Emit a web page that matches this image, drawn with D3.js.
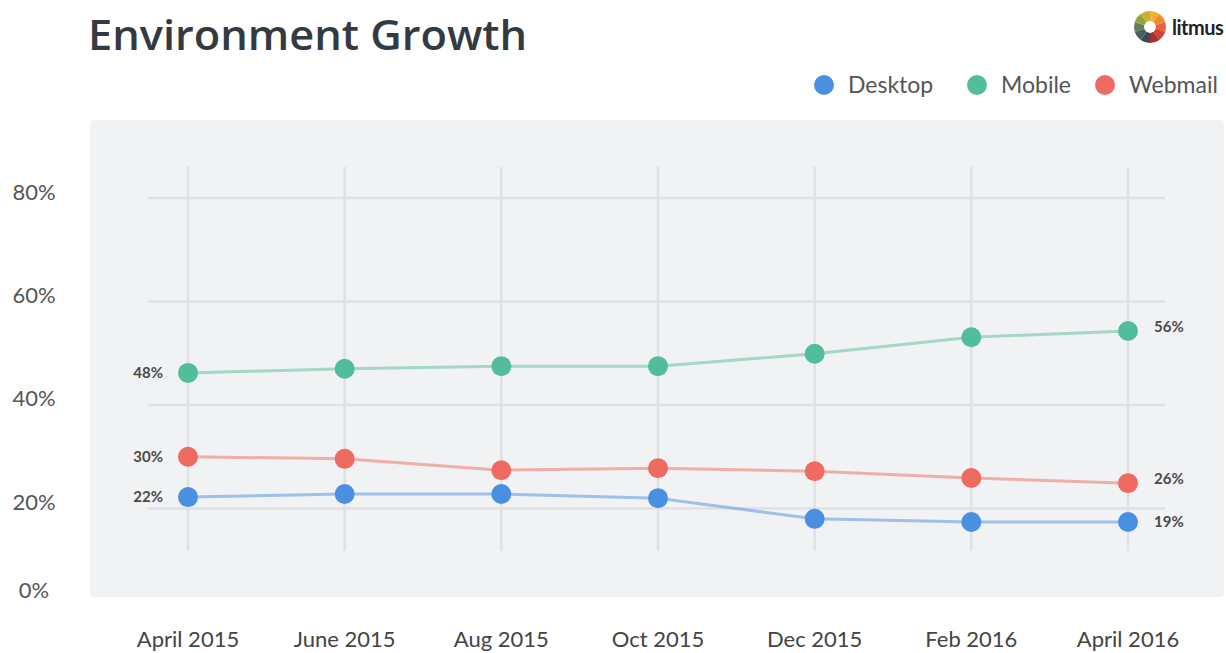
<!DOCTYPE html>
<html>
<head>
<meta charset="utf-8">
<script src="https://cdn.jsdelivr.net/npm/d3@7"></script>
<style>
    body { margin: 0; background: #fff; }
    svg { display: block; font-family: Lato, "Open Sans", sans-serif; }
</style>
</head>
<body>
<script>
// months along the bottom
const months = ["April 2015", "June 2015", "Aug 2015", "Oct 2015", "Dec 2015", "Feb 2016", "April 2016"];

// values as plotted
const desktop = [22.2, 22.8, 22.8, 22.0, 18.0, 17.4, 17.4];
const mobile  = [46.2, 47.0, 47.5, 47.5, 49.9, 53.1, 54.3];
const webmail = [30.0, 29.6, 27.4, 27.8, 27.2, 25.9, 24.9];

// printed labels at both ends
const seriesNames = ["Desktop", "Mobile", "Webmail"];
const startLabels = ["22%", "48%", "30%"];
const endLabels   = ["19%", "56%", "26%"];

const yTicks = [0, 20, 40, 60, 80];
const gridTicks = [20, 40, 60, 80];

const colors = {
    Desktop: "#4a90e2",
    Mobile: "#52bd9a",
    Webmail: "#ef6a61"
};

// litmus logo wedges, clockwise from top
const logoColors = ["#f2b134", "#ef8a2f", "#e8633a", "#d2403a", "#a8302c",
                    "#3b4856", "#4a5e60", "#61805a", "#93a33e", "#c6b22f"];

function go() {
    const width = 1226, height = 653;

    const svg = d3.select("body").append("svg")
        .attr("width", width)
        .attr("height", height);

    // grey panel
    svg.append("rect")
        .attr("x", 90)
        .attr("y", 120)
        .attr("width", 1134)
        .attr("height", 477)
        .attr("rx", 4)
        .attr("fill", "#f1f2f4");

    const x = d3.scalePoint()
        .domain(months)
        .range([188, 1128]);

    const y = d3.scaleLinear()
        .domain([0, 80])
        .range([612, 198]);

    // the tick labels on the left sit a little off the grid
    const yLabel = d3.scaleLinear()
        .domain([0, 20, 80])
        .range([590, 502, 192]);

    // title
    svg.append("text")
        .attr("x", 88)
        .attr("y", 50)
        .attr("font-family", "'Open Sans', Lato, sans-serif")
        .attr("font-size", 41)
        .attr("font-weight", 600)
        .attr("fill", "#343a42")
        .attr("textLength", 439)
        .attr("lengthAdjust", "spacingAndGlyphs")
        .text("Environment Growth");

    // logo
    const logo = svg.append("g")
        .attr("transform", "translate(1150,27)");
    const pie = d3.pie().sort(null).value(1);
    const arc = d3.arc().innerRadius(6).outerRadius(16);
    logo.selectAll("path")
        .data(pie(logoColors))
        .enter()
        .append("path")
        .attr("d", arc)
        .attr("fill", function(d) { return d.data; });
    svg.append("text")
        .attr("x", 1172)
        .attr("y", 35)
        .attr("font-size", 20)
        .attr("font-weight", 700)
        .attr("fill", "#222")
        .attr("letter-spacing", -0.5)
        .text("litmus");

    // legend
    const legendX = [824, 977, 1105];
    const legend = svg.append("g")
        .selectAll("g")
        .data(seriesNames)
        .enter()
        .append("g")
        .attr("transform", function(d, i) { return "translate(" + legendX[i] + ",85)"; });
    legend.append("circle")
        .attr("r", 10)
        .attr("fill", function(d) { return colors[d]; });
    legend.append("text")
        .attr("x", 24)
        .attr("y", 8)
        .attr("font-size", 23)
        .attr("fill", "#555")
        .text(function(d) { return d; });

    // grid
    svg.append("g")
        .selectAll("line")
        .data(gridTicks)
        .enter()
        .append("line")
        .attr("x1", 148)
        .attr("x2", 1165)
        .attr("y1", function(d) { return y(d); })
        .attr("y2", function(d) { return y(d); })
        .attr("stroke", "#dfe1e4")
        .attr("stroke-width", 2.5);

    svg.append("g")
        .selectAll("line")
        .data(months)
        .enter()
        .append("line")
        .attr("x1", function(d) { return x(d); })
        .attr("x2", function(d) { return x(d); })
        .attr("y1", 167)
        .attr("y2", 551)
        .attr("stroke", "#dfe1e4")
        .attr("stroke-width", 2.5);

    // y labels
    svg.append("g")
        .selectAll("text")
        .data(yTicks)
        .enter()
        .append("text")
        .attr("x", 34)
        .attr("y", function(d) { return yLabel(d); })
        .attr("dy", "0.35em")
        .attr("text-anchor", "middle")
        .attr("font-size", 22)
        .attr("fill", "#555")
        .text(function(d) { return d + "%"; });

    // x labels
    svg.append("g")
        .selectAll("text")
        .data(months)
        .enter()
        .append("text")
        .attr("x", function(d) { return x(d); })
        .attr("y", 647)
        .attr("text-anchor", "middle")
        .attr("font-size", 22)
        .attr("fill", "#444")
        .text(function(d) { return d; });

    const series = [
        { name: "Desktop", values: desktop },
        { name: "Mobile", values: mobile },
        { name: "Webmail", values: webmail }
    ];

    const lineFunction = d3.line()
        .x(function(d, i) { return x(months[i]); })
        .y(function(d) { return y(d); })
        .curve(d3.curveLinear);

    svg.append("g")
        .selectAll("path")
        .data(series)
        .enter()
        .append("path")
        .attr("d", function(d) { return lineFunction(d.values); })
        .attr("fill", "none")
        .attr("stroke", function(d) { return colors[d.name]; })
        .attr("stroke-opacity", 0.5)
        .attr("stroke-width", 3);

    series.forEach(function(s, si) {
        svg.append("g")
            .selectAll("circle")
            .data(s.values)
            .enter()
            .append("circle")
            .attr("cx", function(d, i) { return x(months[i]); })
            .attr("cy", function(d) { return y(d); })
            .attr("r", 10)
            .attr("fill", colors[s.name]);

        const last = s.values.length - 1;
        svg.append("text")
            .attr("x", x(months[0]) - 25)
            .attr("y", y(s.values[0]))
            .attr("dy", "0.35em")
            .attr("text-anchor", "end")
            .attr("font-size", 15)
            .attr("font-weight", 700)
            .attr("fill", "#4a4a4a")
            .text(startLabels[si]);

        svg.append("text")
            .attr("x", x(months[last]) + 26)
            .attr("y", y(s.values[last]) + (s.name === "Desktop" ? 0 : -4))
            .attr("dy", "0.35em")
            .attr("font-size", 15)
            .attr("font-weight", 700)
            .attr("fill", "#4a4a4a")
            .text(endLabels[si]);
    });
}

window.onload = function() {
    go();
}
</script>
</body>
</html>
